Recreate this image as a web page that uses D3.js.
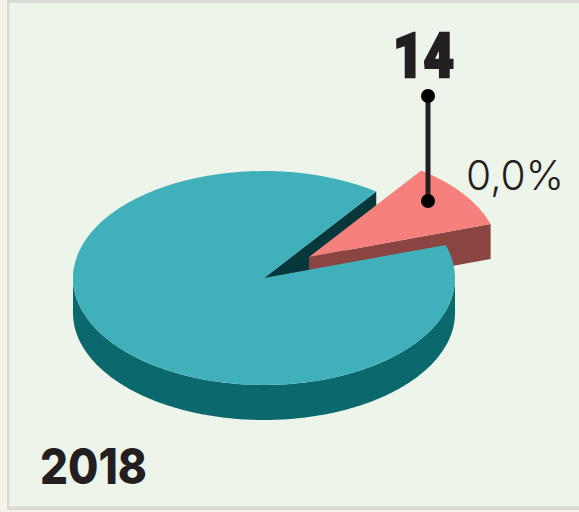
<!DOCTYPE html>
<html><head><meta charset="utf-8">
<script src="https://cdn.jsdelivr.net/npm/d3@7/dist/d3.min.js"></script>
<style>html,body{margin:0;padding:0;background:#f5f2e6;overflow:hidden}svg{display:block}</style>
</head><body><svg id="c" width="579" height="512"></svg>
<script>
const categories = ["Resto", "14"];
const shares = [90, 10];
const year = "2018";
const calloutValue = "14";
const calloutShare = "0,0%";
const colorsTop = ["#40b0bb", "#f6807c"];
const colorsSide = ["#0b686d", "#8a4543"];
const wallColor = "#06383b";

const svg = d3.select("#c");
const W = 579, H = 512;
svg.append("rect").attr("x", 7).attr("y", 0).attr("width", W - 7).attr("height", 510).attr("fill", "#d9d9d6");
svg.append("rect").attr("x", 9.5).attr("y", 3).attr("width", W - 9.5).attr("height", 503.5).attr("fill", "#edf4ea");

const cx = 264, cy = 278, rx = 191, ry = 107, depth = 35;
const off = { x: 45, y: -21 };
const rad = Math.PI / 180;
const pie = d3.pie().sort(null).value(d => d).startAngle(72 * rad).endAngle(432 * rad);
const arcs = pie(shares);
const main = arcs[0], wedge = arcs[1];

const px = a => rx * Math.sin(a), py = a => -ry * Math.cos(a);
const arcGen = d3.arc().innerRadius(0).outerRadius(rx);
const ySquash = ry / rx;
const band = d3.area().x(d => d.x).y0(d => d.y).y1(d => d.y + depth);

const g = svg.append("g").attr("transform", `translate(${cx},${cy})`);
const rimPts = d3.range(90, 270.5, 1).map(a => ({ x: px(a * rad), y: py(a * rad) }));
g.append("path").attr("d", band(rimPts)).attr("fill", colorsSide[0]);

const wallPts = [{ x: 0, y: 0 }, { x: px(wedge.startAngle), y: py(wedge.startAngle) }];
g.append("path").attr("d", band(wallPts)).attr("fill", wallColor);

const w = g.append("g").attr("transform", `translate(${off.x},${off.y})`);
const sidePts = [{ x: 0, y: 0 }, { x: px(wedge.endAngle), y: py(wedge.endAngle) }];
w.append("path").attr("d", band(sidePts)).attr("fill", colorsSide[1]);
w.append("path").attr("d", arcGen(wedge)).attr("transform", `scale(1,${ySquash})`).attr("fill", colorsTop[1]);

g.append("path").attr("d", arcGen(main)).attr("transform", `scale(1,${ySquash})`).attr("fill", colorsTop[0]);

const lx = 428, ly0 = 96, ly1 = 201;
svg.append("line").attr("x1", lx).attr("x2", lx).attr("y1", ly0).attr("y2", ly1).attr("stroke", "#231f20").attr("stroke-width", 5);
svg.selectAll("circle.d").data([ly0, ly1]).join("circle").attr("class", "d").attr("cx", lx).attr("cy", d => d).attr("r", 7).attr("fill", "#000");

svg.append("text").attr("x", 393).attr("y", 77)
  .attr("font-family", "Roboto").attr("font-weight", 900).attr("font-size", 61)
  .attr("textLength", 61).attr("lengthAdjust", "spacingAndGlyphs")
  .attr("fill", "#231f20").attr("stroke", "#231f20").attr("stroke-width", 2.5).text(calloutValue);
svg.append("text").attr("x", 466).attr("y", 190)
  .attr("font-family", "Inter").attr("font-weight", 300).attr("font-size", 41)
  .attr("textLength", 98).attr("lengthAdjust", "spacingAndGlyphs")
  .attr("fill", "#231f20").text(calloutShare);
svg.append("text").attr("x", 40).attr("y", 483.5)
  .attr("font-family", "Inter").attr("font-weight", 800).attr("font-size", 50)
  .attr("textLength", 107).attr("lengthAdjust", "spacingAndGlyphs")
  .attr("fill", "#231f20").text(year);
</script></body></html>
